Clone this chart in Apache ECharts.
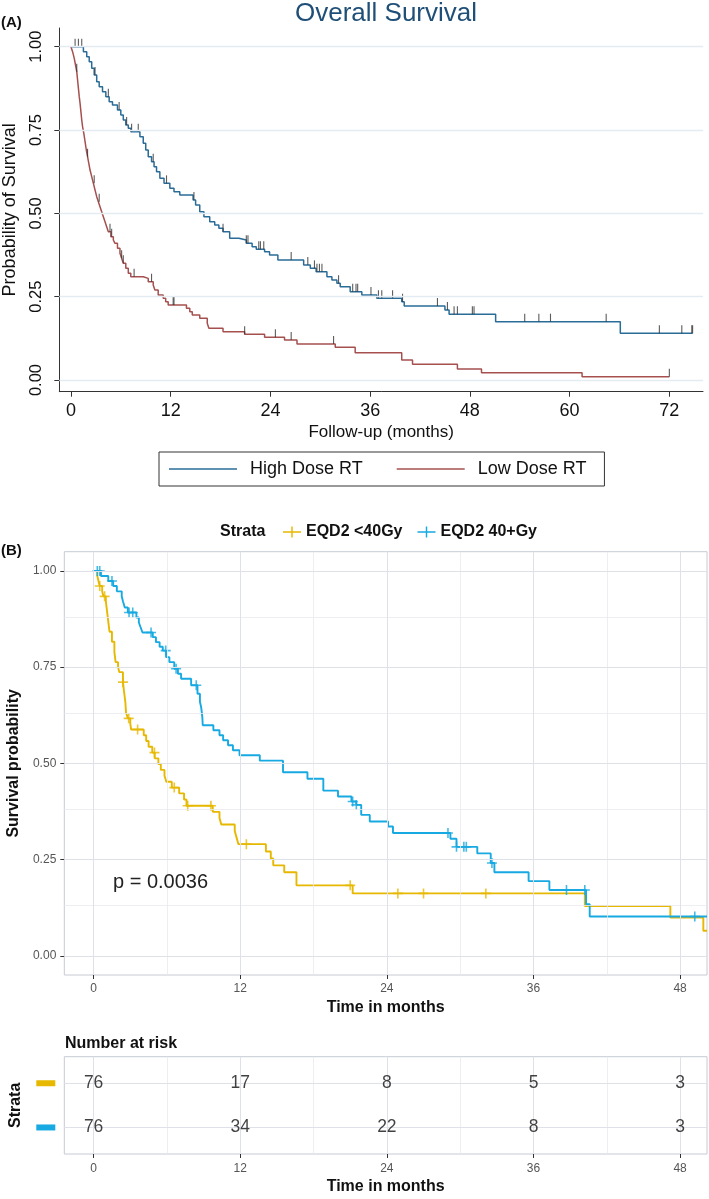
<!DOCTYPE html>
<html><head><meta charset="utf-8">
<script src="https://cdn.jsdelivr.net/npm/echarts@6/dist/echarts.min.js"></script>
<style>html,body{margin:0;padding:0;background:#fff}#c{width:709px;height:1199px}</style>
</head><body><div id="c"></div>
<script>
// ---------- Panel A: Overall Survival (Kaplan-Meier steps [month, survival]) ----------
const highDoseSteps = [[0,1],[1.5,0.985],[1.9,0.97],[2.2,0.955],[2.5,0.935],[2.8,0.915],[3.1,0.895],[3.4,0.88],[3.8,0.865],[4.2,0.85],[4.6,0.835],[5.0,0.825],[5.6,0.81],[6.0,0.795],[6.3,0.78],[6.6,0.765],[6.9,0.755],[7.2,0.745],[8.3,0.73],[8.7,0.71],[9.0,0.69],[9.3,0.67],[9.7,0.655],[10.0,0.64],[10.3,0.625],[10.7,0.605],[11.2,0.59],[11.9,0.575],[12.4,0.565],[13.1,0.555],[14.7,0.54],[15.0,0.525],[15.5,0.505],[16.0,0.49],[16.7,0.475],[17.3,0.465],[17.8,0.455],[18.3,0.445],[19.1,0.425],[20.2,0.42],[21.1,0.41],[21.8,0.4],[22.3,0.392],[23.3,0.385],[23.9,0.375],[24.9,0.36],[28.0,0.345],[28.8,0.335],[29.5,0.325],[30.8,0.31],[31.4,0.3],[32.0,0.29],[32.4,0.28],[33.6,0.265],[35.0,0.255],[36.8,0.245],[39.8,0.235],[40.1,0.222],[45.0,0.21],[45.5,0.197],[51.1,0.175],[66.1,0.14],[74.8,0.14]];
const highDoseCensor = [0.5,0.9,1.3,2.9,4.5,5.8,6.7,7.3,8.1,9.9,11.5,14.8,18.3,21.1,21.3,22.6,22.8,23.2,26.5,28.5,29.3,29.6,29.9,30.2,32.2,33.9,34.3,34.5,36.1,37.0,37.4,38.7,39.9,44.1,45.3,46.1,46.5,48.3,48.5,54.6,56.3,57.7,64.4,70.8,73.5,74.7,74.8];
const lowDoseSteps = [[0,1],[0.2,0.985],[0.4,0.965],[0.55,0.945],[0.7,0.925],[0.8,0.9],[0.9,0.875],[1.0,0.85],[1.1,0.83],[1.2,0.805],[1.3,0.78],[1.4,0.76],[1.55,0.74],[1.7,0.715],[1.85,0.69],[2.0,0.67],[2.15,0.65],[2.3,0.63],[2.5,0.61],[2.7,0.59],[2.9,0.57],[3.1,0.55],[3.3,0.535],[3.5,0.52],[3.7,0.505],[3.9,0.49],[4.1,0.475],[4.3,0.46],[4.5,0.445],[4.8,0.43],[5.1,0.42],[5.3,0.41],[5.6,0.395],[5.9,0.38],[6.1,0.365],[6.3,0.35],[6.6,0.335],[6.9,0.32],[7.2,0.31],[8.7,0.305],[9.3,0.295],[9.9,0.285],[10.1,0.27],[10.5,0.255],[11.1,0.245],[11.4,0.235],[11.7,0.225],[13.9,0.215],[14.3,0.205],[14.6,0.195],[15.5,0.185],[16.4,0.17],[16.6,0.155],[18.3,0.145],[20.9,0.137],[23.3,0.128],[25.7,0.12],[27.2,0.108],[31.8,0.098],[34.2,0.082],[39.8,0.06],[41.1,0.047],[46.5,0.033],[49.4,0.022],[61.5,0.01],[72,0.01]];
const lowDoseCensor = [0.7,2.0,2.8,3.4,4.7,4.9,6.1,6.3,7.6,9.7,12.3,12.4,20.9,24.6,26.5,31.6,72];
const ticksAx = [0,12,24,36,48,60,72];
const ticksAy = [0,0.25,0.5,0.75,1];

// ---------- Panel B: EQD2 strata ----------
const eqdLowSteps = [[0,1],[0.3,0.987],[0.4,0.974],[0.5,0.961],[0.7,0.947],[0.8,0.934],[1.0,0.921],[1.1,0.895],[1.2,0.868],[1.3,0.842],[1.5,0.816],[1.7,0.789],[1.8,0.763],[2.0,0.75],[2.1,0.737],[2.4,0.711],[2.5,0.684],[2.6,0.658],[2.65,0.632],[2.8,0.617],[3.0,0.603],[3.07,0.588],[4.1,0.573],[4.3,0.558],[4.5,0.543],[4.8,0.528],[5.0,0.513],[5.3,0.498],[5.5,0.483],[5.8,0.468],[5.95,0.452],[6.4,0.437],[7.0,0.422],[7.4,0.406],[7.6,0.39],[9.75,0.374],[10.3,0.358],[10.45,0.341],[11.55,0.324],[11.7,0.307],[11.85,0.29],[14.1,0.271],[14.5,0.253],[14.7,0.235],[15.6,0.217],[16.6,0.183],[21.2,0.162],[40.2,0.129],[47.2,0.099],[49.9,0.065],[50.2,0.065]];
const eqdLowCensor = [0.5,0.9,2.4,2.87,3.6,4.98,6.6,7.7,9.6,12.5,21.0,24.9,27.0,32.1];
const eqdHighSteps = [[0,1],[0.6,0.987],[1.2,0.974],[1.6,0.961],[1.9,0.947],[2.3,0.934],[2.4,0.921],[2.55,0.905],[2.8,0.892],[3.5,0.879],[3.7,0.866],[3.85,0.853],[4.0,0.84],[4.84,0.828],[5.1,0.815],[5.4,0.803],[5.66,0.793],[5.93,0.776],[6.2,0.763],[6.6,0.746],[6.9,0.733],[7.16,0.72],[7.98,0.703],[8.5,0.681],[8.7,0.66],[8.8,0.646],[8.85,0.633],[8.9,0.619],[8.93,0.599],[9.8,0.586],[10.3,0.573],[10.6,0.56],[11.0,0.547],[11.4,0.534],[11.94,0.521],[13.6,0.507],[15.5,0.477],[17.5,0.46],[18.8,0.429],[20.0,0.414],[21.1,0.401],[21.5,0.392],[21.9,0.366],[22.6,0.349],[24.1,0.336],[24.5,0.319],[29.2,0.304],[29.7,0.283],[31.4,0.266],[32.5,0.241],[32.8,0.217],[35.6,0.194],[37.3,0.171],[40.3,0.134],[40.6,0.102],[50.2,0.102]];
const eqdHighCensor = [0.3,0.5,1.5,2.9,3.2,4.7,5.9,6.75,8.4,21.2,21.5,29.0,29.7,30.3,30.5,32.6,38.7,40.2,49.2];
const ticksBx = [0,12,24,36,48];
const minorBx = [6,18,30,42];
const ticksBy = [0,0.25,0.5,0.75,1];
const minorBy = [0.125,0.375,0.625,0.875];

// ---------- Number at risk ----------
const riskTimes = [0,12,24,36,48];
const riskLow = [76,17,8,5,3];
const riskHigh = [76,34,22,8,3];

const FONT = 'Liberation Sans, Arial, sans-serif';
const cHigh = '#2a6c98', cLow = '#a5504f';
const cY = '#E7B800', cB = '#17A9E1';

function survAt(steps, t){ let s = steps[0][1]; for (const p of steps){ if (p[0] <= t + 1e-9) s = p[1]; else break; } return s; }
function censorPts(steps, times){ return times.map(t => [t, survAt(steps, t)]); }

const chart = echarts.init(document.getElementById('c'), null, {renderer:'canvas'});
const plusPath = 'path://M0,4.2L10,4.2L10,5.8L0,5.8Z M4.2,0L5.8,0L5.8,10L4.2,10Z';
const tickPath = 'path://M0,0L1,0L1,10L0,10Z';

function gridLines(vals, axisKey, style){ return vals.map(v => ({[axisKey]: v, lineStyle: style})); }
const majorStyle = {color:'#dfe1e8', width:1, type:'solid'};
const minorStyle = {color:'#e8e9ef', width:0.8, type:'solid'};

const option = {
  animation: false,
  backgroundColor: '#fff',
  textStyle: {fontFamily: FONT},
  title: [
    {text:'Overall Survival', left:381, top:-4, textAlign:'center', textStyle:{fontSize:26, fontWeight:'normal', color:'#1f4f77', fontFamily:FONT}},
    {text:'(A)', left:-4, top:10, textStyle:{fontSize:15, fontWeight:'bold', color:'#111', fontFamily:FONT}},
    {text:'(B)', left:-4, top:538, textStyle:{fontSize:15, fontWeight:'bold', color:'#111', fontFamily:FONT}},
    {text:'Strata', left:215, top:519, textStyle:{fontSize:16, fontWeight:'bold', color:'#111', fontFamily:FONT}},
    {text:'p = 0.0036', left:108, top:867, textStyle:{fontSize:20, fontWeight:'normal', color:'#222', fontFamily:FONT}},
    {text:'Number at risk', left:60, top:1031, textStyle:{fontSize:16, fontWeight:'bold', color:'#111', fontFamily:FONT}}
  ],
  legend: [
    {data:['High Dose RT','Low Dose RT'], left:159, top:452, orient:'horizontal', icon:'rect', itemWidth:68, itemHeight:1.6, itemGap:34,
     padding:[8,18,8,10], borderColor:'#333', borderWidth:1, selectedMode:false,
     textStyle:{fontSize:18, color:'#111', fontFamily:FONT, padding:[0,0,0,8]}},
    {data:['EQD2 <40Gy','EQD2 40+Gy'], left:283, top:524, orient:'horizontal', icon:'path://M0,5.2L20,5.2L20,6.8L0,6.8Z M9.2,0L10.8,0L10.8,12L9.2,12Z',
     itemWidth:18, itemHeight:12, itemGap:15, padding:0, selectedMode:false,
     textStyle:{fontSize:16, fontWeight:'bold', color:'#111', fontFamily:FONT}}
  ],
  grid: [
    {left:59.3, top:28, width:643.7, height:363.7, outerBoundsMode:'none', containLabel:false},
    {left:64.3, top:551.7, width:642.7, height:423.3, show:true, borderColor:'#c6cad3', borderWidth:1, backgroundColor:'#fff', outerBoundsMode:'none', containLabel:false},
    {left:64.3, top:1056.7, width:642.7, height:97.3, show:true, borderColor:'#c6cad3', borderWidth:1, backgroundColor:'#fff', outerBoundsMode:'none', containLabel:false}
  ],
  xAxis: [
    {gridIndex:0, type:'value', min:-1.4, max:76.05, minInterval:12, maxInterval:12,
     axisLine:{show:true, onZero:false, lineStyle:{color:'#333', width:1}},
     axisTick:{show:true, length:5, customValues:ticksAx, lineStyle:{color:'#333'}},
     axisLabel:{customValues:ticksAx, fontSize:18, color:'#111', margin:10, fontFamily:FONT, formatter:v=>ticksAx.includes(v)?String(v):''},
     splitLine:{show:false},
     name:'Follow-up (months)', nameLocation:'middle', nameGap:32, nameTextStyle:{fontSize:17, color:'#111', fontFamily:FONT}},
    {gridIndex:1, type:'value', min:-2.4, max:50.2, minInterval:12, maxInterval:12,
     axisLine:{show:false, onZero:false},
     axisTick:{show:true, length:4, customValues:ticksBx, lineStyle:{color:'#333'}},
     axisLabel:{customValues:ticksBx, fontSize:12, color:'#555', margin:8, fontFamily:FONT, formatter:v=>ticksBx.includes(v)?String(v):''},
     splitLine:{show:false},
     name:'Time in months', nameLocation:'middle', nameGap:25, nameTextStyle:{fontSize:16, fontWeight:'bold', color:'#111', fontFamily:FONT}},
    {gridIndex:2, type:'value', min:-2.4, max:50.2, minInterval:12, maxInterval:12,
     axisLine:{show:false, onZero:false},
     axisTick:{show:true, length:4, customValues:ticksBx, lineStyle:{color:'#333'}},
     axisLabel:{customValues:ticksBx, fontSize:12, color:'#555', margin:9, fontFamily:FONT, formatter:v=>ticksBx.includes(v)?String(v):''},
     splitLine:{show:false},
     name:'Time in months', nameLocation:'middle', nameGap:25, nameTextStyle:{fontSize:16, fontWeight:'bold', color:'#111', fontFamily:FONT}}
  ],
  yAxis: [
    {gridIndex:0, type:'value', min:-0.035, max:1.056, minInterval:0.25, maxInterval:0.25,
     axisLine:{show:true, onZero:false, lineStyle:{color:'#333', width:1}},
     axisTick:{show:true, length:5, customValues:ticksAy, lineStyle:{color:'#333'}},
     axisLabel:{customValues:ticksAy, rotate:90, fontSize:16.5, color:'#111', margin:14, fontFamily:FONT, formatter:v=>ticksAy.includes(v)?v.toFixed(2):''},
     splitLine:{show:false},
     name:'Probability of Survival', nameLocation:'middle', nameGap:40, nameTextStyle:{fontSize:18, color:'#111', fontFamily:FONT}},
    {gridIndex:1, type:'value', min:-0.05, max:1.05, minInterval:0.25, maxInterval:0.25,
     axisLine:{show:false, onZero:false},
     axisTick:{show:true, length:4, customValues:ticksBy, lineStyle:{color:'#333'}},
     axisLabel:{customValues:ticksBy, fontSize:12, color:'#555', margin:8, fontFamily:FONT, formatter:v=>ticksBy.includes(v)?v.toFixed(2):''},
     splitLine:{show:false},
     name:'Survival probability', nameLocation:'middle', nameGap:41, nameTextStyle:{fontSize:16, fontWeight:'bold', color:'#111', fontFamily:FONT}},
    {gridIndex:2, type:'value', min:0.4, max:2.6, minInterval:1, maxInterval:1,
     axisLine:{show:false, onZero:false},
     axisTick:{show:false},
     axisLabel:{customValues:[1,2], margin:9, formatter:v=>v===2?'{y|}':(v===1?'{b|}':''),
       rich:{y:{backgroundColor:cY, width:19, height:6}, b:{backgroundColor:cB, width:19, height:6}}},
     splitLine:{show:false},
     name:'Strata', nameLocation:'middle', nameGap:41, nameTextStyle:{fontSize:16, fontWeight:'bold', color:'#111', fontFamily:FONT}}
  ],
  series: [
    // gridlines
    {type:'line', xAxisIndex:0, yAxisIndex:0, data:[], z:0, silent:true,
     markLine:{silent:true, symbol:['none','none'], label:{show:false}, animation:false,
       data: gridLines(ticksAy, 'yAxis', {color:'#e3ecf2', width:1.3, type:'solid'})}},
    {type:'line', xAxisIndex:1, yAxisIndex:1, data:[], z:0, silent:true,
     markLine:{silent:true, symbol:['none','none'], label:{show:false}, animation:false,
       data: gridLines(minorBx,'xAxis',minorStyle).concat(gridLines(minorBy,'yAxis',minorStyle), gridLines(ticksBx,'xAxis',majorStyle), gridLines(ticksBy,'yAxis',majorStyle))}},
    {type:'line', xAxisIndex:2, yAxisIndex:2, data:[], z:0, silent:true,
     markLine:{silent:true, symbol:['none','none'], label:{show:false}, animation:false,
       data: gridLines(minorBx,'xAxis',minorStyle).concat(gridLines(ticksBx,'xAxis',majorStyle), gridLines([1,2],'yAxis',majorStyle))}},
    // Panel A curves
    {name:'High Dose RT', type:'line', step:'end', xAxisIndex:0, yAxisIndex:0, data:highDoseSteps, symbol:'none', z:3,
     lineStyle:{color:cHigh, width:1.5}, itemStyle:{color:cHigh}},
    {name:'Low Dose RT', type:'line', step:'end', xAxisIndex:0, yAxisIndex:0, data:lowDoseSteps, symbol:'none', z:3,
     lineStyle:{color:cLow, width:1.5}, itemStyle:{color:cLow}},
    {name:'cA1', type:'scatter', xAxisIndex:0, yAxisIndex:0, data:censorPts(highDoseSteps, highDoseCensor), symbol:tickPath, symbolSize:[1.1,8], symbolOffset:[0,-4], itemStyle:{color:'#333'}, z:4},
    {name:'cA2', type:'scatter', xAxisIndex:0, yAxisIndex:0, data:censorPts(lowDoseSteps, lowDoseCensor), symbol:tickPath, symbolSize:[1.1,8], symbolOffset:[0,-4], itemStyle:{color:'#333'}, z:4},
    // Panel B curves
    {name:'EQD2 <40Gy', type:'line', step:'end', xAxisIndex:1, yAxisIndex:1, data:eqdLowSteps, symbol:'none', z:3,
     lineStyle:{color:cY, width:1.9}, itemStyle:{color:cY}},
    {name:'EQD2 40+Gy', type:'line', step:'end', xAxisIndex:1, yAxisIndex:1, data:eqdHighSteps, symbol:'none', z:3,
     lineStyle:{color:cB, width:1.9}, itemStyle:{color:cB}},
    {name:'cB1', type:'scatter', xAxisIndex:1, yAxisIndex:1, data:censorPts(eqdLowSteps, eqdLowCensor), symbol:plusPath, symbolSize:10, itemStyle:{color:cY}, z:4},
    {name:'cB2', type:'scatter', xAxisIndex:1, yAxisIndex:1, data:censorPts(eqdHighSteps, eqdHighCensor), symbol:plusPath, symbolSize:10, itemStyle:{color:cB}, z:4},
    // Number at risk
    {name:'riskLow', type:'scatter', xAxisIndex:2, yAxisIndex:2, data:riskTimes.map((t,i)=>[t,2,riskLow[i]]), symbolSize:1, itemStyle:{color:'rgba(0,0,0,0)'},
     label:{show:true, position:'inside', formatter:p=>String(p.value[2]), fontSize:17.5, color:'#111', fontFamily:FONT}, z:6},
    {name:'riskHigh', type:'scatter', xAxisIndex:2, yAxisIndex:2, data:riskTimes.map((t,i)=>[t,1,riskHigh[i]]), symbolSize:1, itemStyle:{color:'rgba(0,0,0,0)'},
     label:{show:true, position:'inside', formatter:p=>String(p.value[2]), fontSize:17.5, color:'#111', fontFamily:FONT}, z:6}
  ]
};
chart.setOption(option);
</script>
</body></html>
